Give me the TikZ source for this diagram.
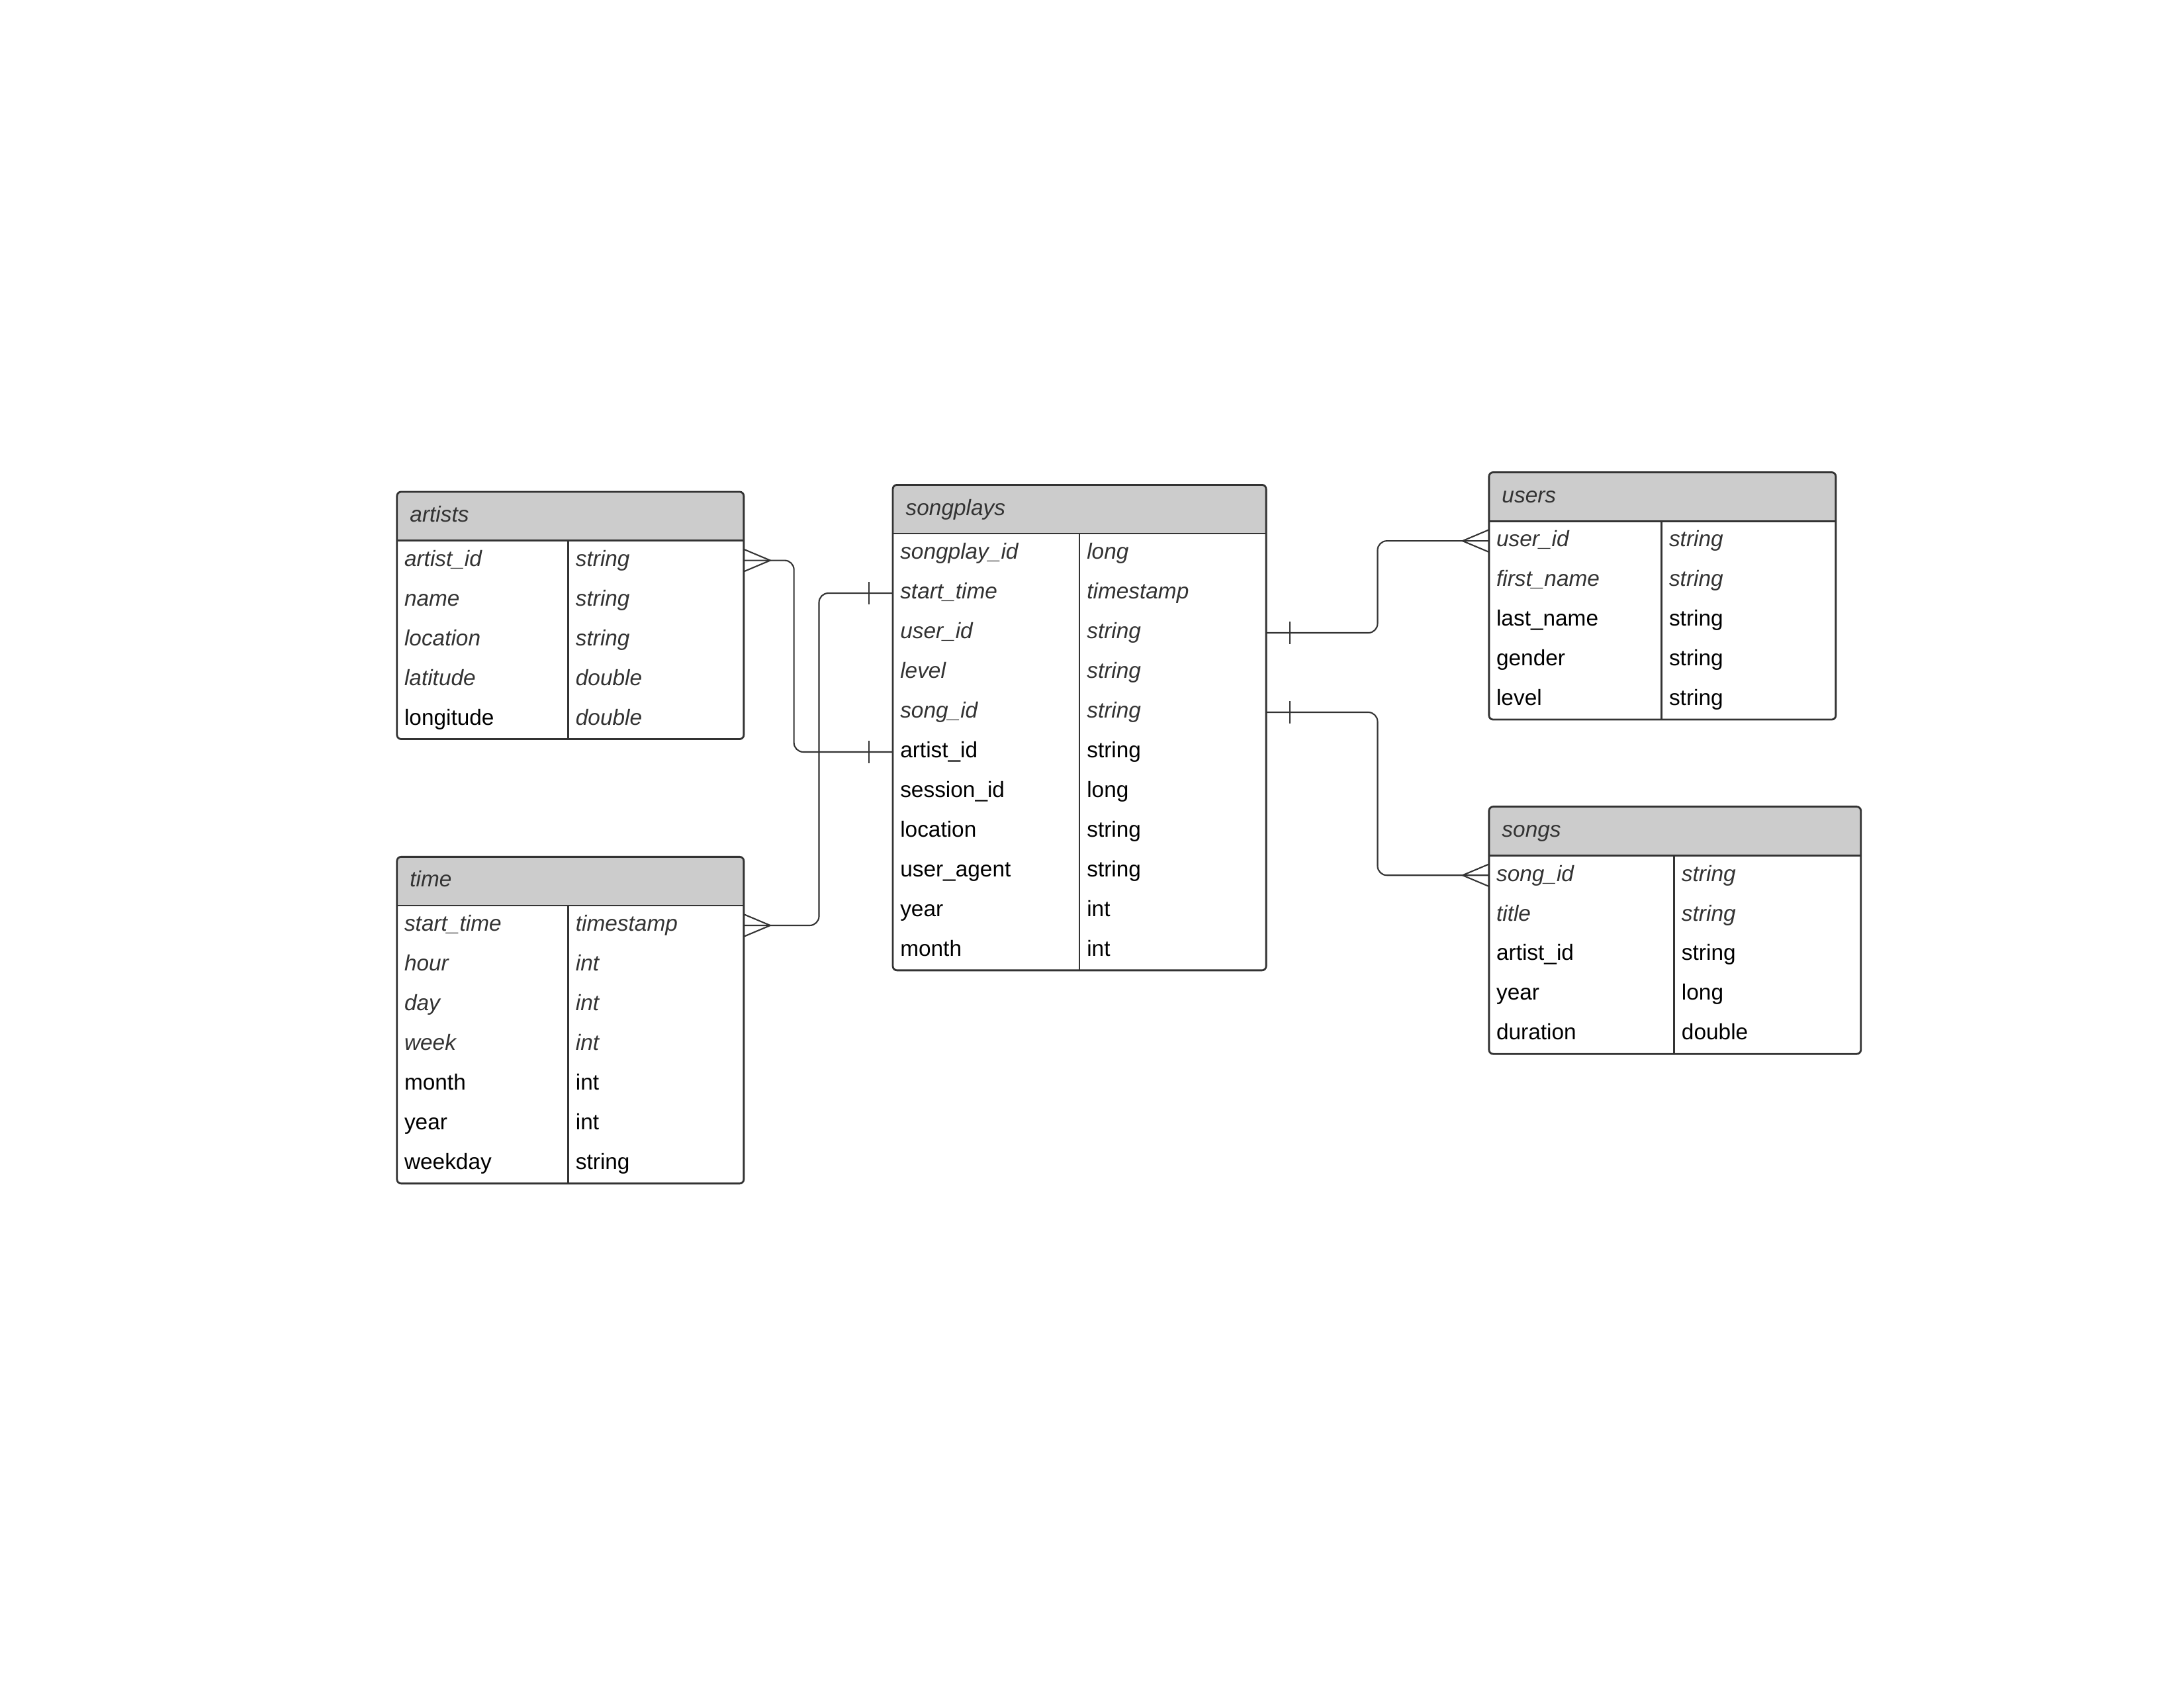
\documentclass[tikz,border=0pt]{standalone}
\usepackage{fontspec}
\setmainfont{Liberation Sans}
\usetikzlibrary{arrows,
                  calc,
                  positioning,
                  arrows.meta}
\definecolor{headgray}{HTML}{CCCCCC}
\definecolor{edgegray}{HTML}{333333}
\definecolor{textgray}{HTML}{333333}

\begin{document}
\begin{tikzpicture}[x=0.021046cm, y=-0.021046cm, every node/.style={font=\fontsize{9.5}{11.4}\selectfont}]
    \tikzset{
    tabframe/.style={draw=edgegray, line width=0.8pt, rounded corners=1.8pt, fill=white},
    rule/.style={draw=edgegray, line width=0.8pt},
    title/.style={anchor=west, inner sep=0pt, text=textgray, font=\fontsize{9.5}{11.4}\selectfont\itshape, text height=0.75em, text depth=0.25em},
    ital/.style={title},
    plain/.style={anchor=west, inner sep=0pt, text=black, text height=0.75em, text depth=0.25em},
    link/.style={draw=edgegray, line width=0.6pt, rounded corners=4pt},
    foot/.style={draw=edgegray, line width=0.6pt},
    crowright/.pic={\path[foot] (0,-8) -- (19,0) -- (0,8);},
    crowleft/.pic={\path[foot] (0,-8) -- (-19,0) -- (0,8);},
    barleft/.pic={\path[foot] (-17,-8) -- (-17,8);},
    barright/.pic={\path[foot] (17,-8) -- (17,8);}
}
\useasboundingbox (0,0) rectangle (1568,1211.6);

% table frames with grey header
\foreach \tab/\x/\y/\w/\d/\n in {artists/285/353/249/123/5, songplays/641/348/268/134/11, users/1069/339/249/124/5, songs/1069/579/267/133/5, time/285/615/249/123/7}{
    \path[tabframe, path picture={\fill[headgray, sharp corners] (\x,\y) rectangle ++(\w,35);}] (\x,\y) rectangle ++(\w,35+\n*28.5);
    \path[rule] (\x,\y+35) -- ++(\w,0);
    \path[rule] (\x+\d,\y+35) -- ++(0,\n*28.5);
    \node[title] (\tab) at (\x+9,\y+17.5) {\tab};
    \coordinate (\tab-nw) at (\x,\y);
    \coordinate (\tab-ne) at (\x+\w,\y);
}

\foreach \i/\nm/\ns/\ty/\ts in {1/artist\_id/ital/string/ital, 2/name/ital/string/ital, 3/location/ital/string/ital, 4/latitude/ital/double/ital, 5/longitude/plain/double/ital}{
    \node[\ns] (artists-\i) at ([shift={(5,20.75+\i*28.5)}]artists-nw) {\nm};
    \node[\ts] (artists-\i-type) at ([shift={(128,20.75+\i*28.5)}]artists-nw) {\ty};
}
\foreach \i/\nm/\ns/\ty/\ts in {1/songplay\_id/ital/long/ital, 2/start\_time/ital/timestamp/ital, 3/user\_id/ital/string/ital, 4/level/ital/string/ital, 5/song\_id/ital/string/ital, 6/artist\_id/plain/string/plain, 7/session\_id/plain/long/plain, 8/location/plain/string/plain, 9/user\_agent/plain/string/plain, 10/year/plain/int/plain, 11/month/plain/int/plain}{
    \node[\ns] (songplays-\i) at ([shift={(5,20.75+\i*28.5)}]songplays-nw) {\nm};
    \node[\ts] (songplays-\i-type) at ([shift={(139,20.75+\i*28.5)}]songplays-nw) {\ty};
}
\foreach \i/\nm/\ns/\ty/\ts in {1/user\_id/ital/string/ital, 2/first\_name/ital/string/ital, 3/last\_name/plain/string/plain, 4/gender/plain/string/plain, 5/level/plain/string/plain}{
    \node[\ns] (users-\i) at ([shift={(5,20.75+\i*28.5)}]users-nw) {\nm};
    \node[\ts] (users-\i-type) at ([shift={(129,20.75+\i*28.5)}]users-nw) {\ty};
}
\foreach \i/\nm/\ns/\ty/\ts in {1/song\_id/ital/string/ital, 2/title/ital/string/ital, 3/artist\_id/plain/string/plain, 4/year/plain/long/plain, 5/duration/plain/double/plain}{
    \node[\ns] (songs-\i) at ([shift={(5,20.75+\i*28.5)}]songs-nw) {\nm};
    \node[\ts] (songs-\i-type) at ([shift={(138,20.75+\i*28.5)}]songs-nw) {\ty};
}
\foreach \i/\nm/\ns/\ty/\ts in {1/start\_time/ital/timestamp/ital, 2/hour/ital/int/ital, 3/day/ital/int/ital, 4/week/ital/int/ital, 5/month/plain/int/plain, 6/year/plain/int/plain, 7/weekday/plain/string/plain}{
    \node[\ns] (time-\i) at ([shift={(5,20.75+\i*28.5)}]time-nw) {\nm};
    \node[\ts] (time-\i-type) at ([shift={(128,20.75+\i*28.5)}]time-nw) {\ty};
}

% relations
\path[link] (artists-ne |- artists-1) -- ++(36,0) |- (songplays-nw |- songplays-6);
\pic at (artists-ne |- artists-1) {crowright};
\pic at (songplays-nw |- songplays-6) {barleft};
\path[link] (time-ne |- time-1) -- ++(54,0) |- (songplays-nw |- songplays-2);
\pic at (time-ne |- time-1) {crowright};
\pic at (songplays-nw |- songplays-2) {barleft};
\path[link] (songplays-ne |- songplays-3) -- ++(80,0) |- (users-nw |- users-1);
\pic at (songplays-ne |- songplays-3) {barright};
\pic at (users-nw |- users-1) {crowleft};
\path[link] (songplays-ne |- songplays-5) -- ++(80,0) |- (songs-nw |- songs-1);
\pic at (songplays-ne |- songplays-5) {barright};
\pic at (songs-nw |- songs-1) {crowleft};

\end{tikzpicture}
\end{document}
